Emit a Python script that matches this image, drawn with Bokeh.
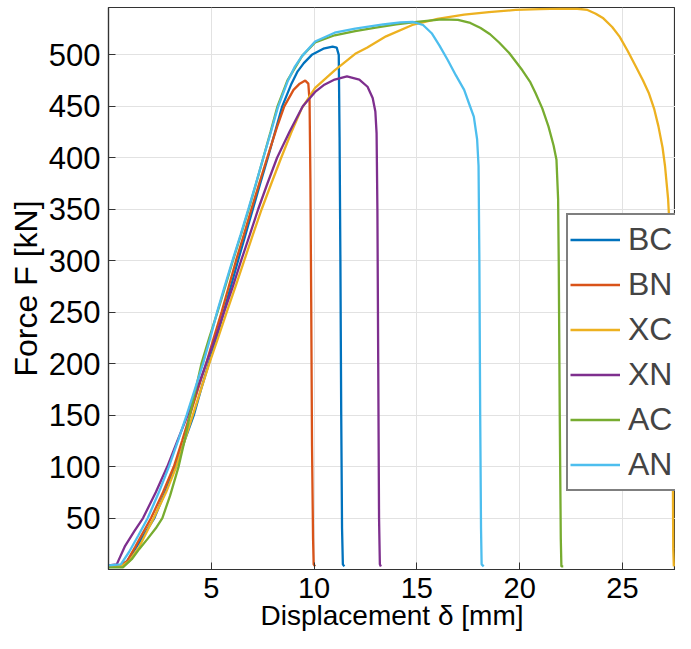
from bokeh.plotting import figure
from bokeh.models import Legend, LegendItem, FixedTicker, Range1d
from bokeh.embed import file_html
from bokeh.resources import INLINE

# ---- data ----
names = ["BC", "BN", "XC", "XN", "AC", "AN"]
colors = ["#0072BD", "#D95319", "#EDB120", "#7E2F8E", "#77AC30", "#4DBEEE"]

bc_x = [0, 0.6, 0.9, 1.3, 1.7, 2.23, 2.75, 3.25, 3.7, 4.15, 4.5, 4.88, 5.25, 5.6, 5.95, 6.3, 6.66, 7.02, 7.38, 7.75, 8.1, 8.45, 8.9, 9.2, 9.5, 9.89, 10.45, 10.9, 11.1, 11.2, 11.24, 11.28, 11.32, 11.36, 11.4, 11.47]
bc_y = [4, 4, 8, 20, 33, 50, 75, 100, 125, 150, 175, 200, 225, 250, 275, 300, 325, 350, 375, 400, 425, 450, 472, 484, 492, 500, 506, 508, 507, 500, 420, 300, 150, 40, 5, 3]

bn_x = [0, 0.6, 0.9, 1.3, 1.6, 2.07, 2.65, 3.18, 3.58, 3.96, 4.35, 4.75, 5.12, 5.5, 5.85, 6.2, 6.58, 6.95, 7.33, 7.72, 8.2, 8.55, 9.0, 9.3, 9.57, 9.72, 9.78, 9.82, 9.86, 9.9, 9.95, 9.98, 10.05]
bn_y = [4, 4, 8, 22, 33, 50, 75, 100, 125, 150, 175, 200, 225, 250, 275, 300, 325, 350, 375, 400, 430, 450, 466, 472, 475, 472, 455, 380, 260, 120, 30, 5, 3]

xc_x = [0, 0.6, 1.0, 1.5, 2.2, 2.8, 3.3, 3.7, 4.1, 4.5, 4.9, 5.33, 5.75, 6.18, 6.6, 7.02, 7.45, 7.92, 8.4, 8.9, 9.4, 10.05, 11.0, 12.0, 12.57, 13.5, 14.78, 16.0, 17.3, 18.5, 19.8, 21.0, 22.0, 22.8, 23.3, 23.7, 24.07, 24.5, 24.86, 25.25, 25.65, 26.0, 26.28, 26.55, 26.75, 26.95, 27.07, 27.22, 27.3, 27.38, 27.42, 27.45, 27.47, 27.5]
xc_y = [3, 3, 8, 22, 50, 75, 100, 125, 150, 175, 200, 225, 250, 275, 300, 325, 350, 375, 400, 425, 448, 468, 485, 501, 507, 518, 529, 535, 539, 541.5, 543.6, 544.5, 545, 544.8, 543.6, 540, 535.5, 527, 517.7, 504, 488.7, 475, 463, 447, 430.5, 410, 392, 360, 330, 295, 200, 100, 20, 3]

xn_x = [0, 0.4, 0.81, 1.25, 1.68, 2.3, 2.86, 3.35, 3.85, 4.3, 4.75, 5.2, 5.62, 6.05, 6.45, 6.87, 7.28, 7.73, 8.2, 8.8, 9.45, 10.05, 10.5, 11.0, 11.6, 12.2, 12.6, 12.85, 12.98, 13.04, 13.08, 13.12, 13.16, 13.2, 13.25]
xn_y = [4, 5, 23, 37, 50, 75, 100, 125, 150, 175, 200, 225, 250, 275, 300, 325, 350, 375, 400, 425, 450, 464, 471, 476, 479, 476, 469, 458, 445, 424, 350, 200, 50, 5, 3]

ac_x = [0, 0.7, 1.13, 1.5, 1.91, 2.3, 2.62, 3.0, 3.41, 3.7, 3.96, 4.24, 4.52, 4.9, 5.3, 5.68, 6.05, 6.44, 6.82, 7.18, 7.53, 7.88, 8.22, 8.7, 9.42, 10.05, 11.0, 12.0, 13.0, 14.0, 15.0, 16.2, 17.0, 17.6, 18.1, 18.56, 19.0, 19.5, 20.13, 20.5, 20.77, 21.1, 21.4, 21.65, 21.79, 21.87, 21.9, 21.95, 22.0, 22.03, 22.12]
ac_y = [2, 2, 10, 20, 30, 40, 50, 72, 100, 125, 150, 175, 200, 225, 250, 275, 300, 325, 350, 375, 400, 425, 450, 475, 499, 512, 519, 523, 526.5, 529.5, 532, 534.5, 534, 531, 526, 520, 512, 501.6, 485, 474, 463, 448, 430.5, 412, 398, 360, 300, 150, 30, 3, 3]

an_x = [0, 0.6, 1.0, 1.45, 1.91, 2.45, 2.94, 3.38, 3.8, 4.2, 4.6, 4.95, 5.28, 5.65, 6.03, 6.42, 6.8, 7.17, 7.53, 7.9, 8.24, 8.71, 9.05, 9.42, 10.05, 11.0, 12.0, 13.36, 14.2, 14.8, 15.3, 15.72, 16.1, 16.5, 16.9, 17.3, 17.55, 17.77, 17.93, 18.0, 18.04, 18.08, 18.12, 18.15, 18.25]
an_y = [4, 5, 17, 33, 50, 75, 100, 125, 150, 175, 200, 225, 250, 275, 300, 325, 350, 375, 400, 425, 449, 474, 488, 499, 513, 521.5, 525.5, 529.5, 531.5, 532, 529, 521, 509, 495, 480, 466, 452, 440, 418, 392, 300, 150, 40, 5, 3]

series_x = [bc_x, bn_x, xc_x, xn_x, ac_x, an_x]
series_y = [bc_y, bn_y, xc_y, xn_y, ac_y, an_y]

x_ticks = [5, 10, 15, 20, 25]
y_ticks = [50, 100, 150, 200, 250, 300, 350, 400, 450, 500]

# ---- figure ----
p = figure(width=675, height=633, x_range=Range1d(0, 27.58), y_range=Range1d(0, 546),
           output_backend="svg", toolbar_location=None,
           min_border_left=108, min_border_right=0, min_border_top=7, min_border_bottom=60)
AX = "#333333"
FONT = "Liberation Sans"
p.outline_line_color = AX
p.outline_line_width = 1.2
p.background_fill_color = "white"

p.xaxis.ticker = FixedTicker(ticks=x_ticks)
p.yaxis.ticker = FixedTicker(ticks=y_ticks)
for ax in (p.xaxis[0], p.yaxis[0]):
    ax.major_tick_in = 7
    ax.major_tick_out = 0
    ax.minor_tick_in = 0
    ax.minor_tick_out = 0
    ax.axis_line_color = AX
    ax.axis_line_width = 1.2
    ax.major_tick_line_color = AX
    ax.major_label_text_font = FONT
    ax.major_label_text_color = "black"
    ax.axis_label_text_font = FONT
    ax.axis_label_text_font_style = "normal"
    ax.axis_label_text_color = "black"

p.xaxis.axis_label = "Displacement δ [mm]"
p.xaxis.major_label_text_font_size = "29px"
p.xaxis.axis_label_text_font_size = "28px"
p.xaxis.major_label_standoff = 8
p.xaxis.axis_label_standoff = -1

p.yaxis.axis_label = "Force F [kN]"
p.yaxis.major_label_text_font_size = "31px"
p.yaxis.axis_label_text_font_size = "32px"
p.yaxis.major_label_standoff = 8
p.yaxis.axis_label_standoff = 2

p.xgrid.ticker = FixedTicker(ticks=x_ticks)
p.ygrid.ticker = FixedTicker(ticks=y_ticks)
p.grid.grid_line_color = "#e2e2e2"
p.grid.grid_line_width = 1

items = []
for name, c, xs, ys in zip(names, colors, series_x, series_y):
    r = p.line(xs, ys, line_color=c, line_width=2.3)
    items.append(LegendItem(label=name, renderers=[r]))

legend = Legend(items=items, location=(458, 78),
                label_text_font=FONT, label_text_font_size="32px",
                glyph_width=50, glyph_height=45, label_height=45, label_width=45,
                label_standoff=8, padding=2, spacing=0, margin=0,
                border_line_color="black", border_line_width=2,
                background_fill_color="white", background_fill_alpha=1)
p.add_layout(legend)

open("out.html", "w").write(file_html(p, INLINE))
